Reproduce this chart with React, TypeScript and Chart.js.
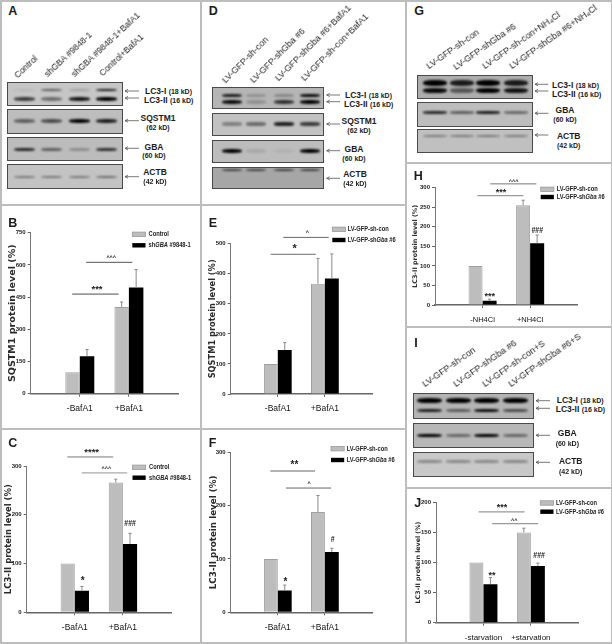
import React, { useEffect, useRef } from "react";
import { Chart, registerables } from "chart.js";

Chart.register(...registerables);

/* ---------- values ---------- */
const bafCategories = ["", "-BafA1", "+BafA1", ""];
const nh4Categories = ["", "-NH4Cl", "+NH4Cl", ""];
const starvationCategories = ["", "-starvation", "+starvation", ""];

const controlLabel = "Control";
const shGbaHumanLabel = "shGBA #9848-1";
const shConLabel = "LV-GFP-sh-con";
const shGbaLabel = "LV-GFP-shGba #6";

const bControl = [null, 100, 404, null];
const bControlTop = [null, 100, 427, null];
const bKnockdown = [null, 175, 495, null];
const bKnockdownTop = [null, 206, 578, null];

const cControl = [null, 100, 266, null];
const cControlTop = [null, 100, 273, null];
const cKnockdown = [null, 44, 140, null];
const cKnockdownTop = [null, 53, 162, null];

const eControl = [null, 100, 367, null];
const eControlTop = [null, 100, 451, null];
const eKnockdown = [null, 146, 384, null];
const eKnockdownTop = [null, 171, 466, null];

const fControl = [null, 100, 188, null];
const fControlTop = [null, 100, 219, null];
const fKnockdown = [null, 41, 113, null];
const fKnockdownTop = [null, 51, 120, null];

const hControl = [null, 100, 255, null];
const hControlTop = [null, 100, 268, null];
const hKnockdown = [null, 11, 158, null];
const hKnockdownTop = [null, 15, 179, null];

const jControl = [null, 100, 150, null];
const jControlTop = [null, 100, 157, null];
const jKnockdown = [null, 64, 94, null];
const jKnockdownTop = [null, 75, 99, null];

const humanLanes = ["Control", "shGBA #9848-1", "shGBA #9848-1+BafA1", "Control+BafA1"];
const mouseBafLanes = ["LV-GFP-sh-con", "LV-GFP-shGba #6", "LV-GFP-shGba #6+BafA1", "LV-GFP-sh-con+BafA1"];
const mouseNhLanes = ["LV-GFP-sh-con", "LV-GFP-shGba #6", "LV-GFP-sh-con+NH\u2084Cl", "LV-GFP-shGba #6+NH\u2084Cl"];
const mouseStarveLanes = ["LV-GFP-sh-con", "LV-GFP-shGba #6", "LV-GFP-sh-con+S", "LV-GFP-shGba #6+S"];

/* ---------- bar panels ---------- */
const SANS = '"Liberation Sans", Arial, sans-serif';
const WIDE = '"DejaVu Sans", Verdana, sans-serif';
const GRAY = "#bdbdbd";
const NARROW_X = 0.82;

type Panel = any;
const panels: Panel[] = [
  {
    id: "B", box: [7, 206, 192, 220], axis: [30.7, 178, 232.7, 393.7], yMax: 750, step: 150,
    title: "SQSTM1 protein level (%)", titleSize: 9.55, categories: bafCategories, catFont: [SANS, 8.5, "normal"],
    names: [controlLabel, shGbaHumanLabel],
    series: [bControl, bKnockdown], tops: [bControlTop, bKnockdownTop],
    lines: [[0.845, 1.79, 464, "#999", 1.6], [1.13, 2.07, 612, "#555", 1]],
    marks: [[1.35, 498, "***", 9.5], [1.64, 643, "^^^", 5.5]],
    legend: [132.3, 148.5, 234.3, 245.3],
  },
  {
    id: "C", box: [4, 430, 195, 212], axis: [26.7, 171, 466, 612.3], yMax: 300, step: 100,
    title: "LC3-II protein level (%)", titleSize: 8.47, categories: bafCategories, catFont: [SANS, 8.5, "normal"],
    names: [controlLabel, shGbaHumanLabel],
    series: [cControl, cKnockdown], tops: [cControlTop, cKnockdownTop],
    lines: [[0.845, 1.8, 318.5, "#777", 1], [1.143, 2.09, 286, "#aaa", 1.4]],
    marks: [[1.35, 332, "****", 9.5], [1.655, 299, "^^^", 5.5], [1.164, 68, "*", 10], [2.15, 182, "###", 8.5]],
    legend: [132.5, 149, 467.3, 477.7],
  },
  {
    id: "E", box: [208, 206, 194, 220], axis: [230.7, 372, 243.7, 394], yMax: 500, step: 100,
    title: "SQSTM1 protein level (%)", titleSize: 8.25, categories: bafCategories, catFont: [SANS, 8.5, "normal"],
    names: [shConLabel, shGbaLabel],
    series: [eControl, eKnockdown], tops: [eControlTop, eKnockdownTop],
    lines: [[0.849, 1.805, 464.5, "#888", 1.2], [1.118, 2.08, 521, "#666", 1]],
    marks: [[1.359, 490, "*", 11], [1.628, 542, "^", 5.5]],
    legend: [332.3, 347.7, 229.3, 240],
  },
  {
    id: "F", box: [208, 430, 194, 212], axis: [230.7, 372, 452.3, 612.3], yMax: 300, step: 100,
    title: "LC3-II protein level (%)", titleSize: 8.78, categories: bafCategories, catFont: [SANS, 8.5, "normal"],
    names: [shConLabel, shGbaLabel],
    series: [fControl, fKnockdown], tops: [fControlTop, fKnockdownTop],
    lines: [[0.842, 1.79, 265, "#999", 1.4], [1.175, 2.13, 233, "#666", 1]],
    marks: [[1.352, 279, "**", 10], [1.663, 245, "^", 5.5], [1.16, 60.6, "*", 10], [2.166, 136, "#", 8.5]],
    legend: [331, 346.7, 448.7, 460],
  },
  {
    id: "H", box: [412, 168, 197, 156], axis: [435, 577.7, 187.7, 305], yMax: 300, step: 50,
    title: "LC3-II protein level (%)", titleSize: 6.4, categories: nh4Categories, catFont: [SANS, 7.5, "normal"],
    names: [shConLabel, shGbaLabel],
    series: [hControl, hKnockdown], tops: [hControlTop, hKnockdownTop],
    lines: [[0.889, 1.856, 279.6, "#999", 1.2], [1.162, 2.13, 309.8, "#777", 1]],
    marks: [[1.387, 292, "***", 9], [1.653, 321, "^^^", 5.5], [1.149, 27, "***", 9], [2.15, 190, "###", 8.5]],
    legend: [540.7, 556.7, 189.3, 197],
  },
  {
    id: "J", box: [415, 492, 194, 148], axis: [436, 578.3, 502.3, 622.7], yMax: 200, step: 50,
    title: "LC3-II protein level (%)", titleSize: 6.3, categories: starvationCategories, catFont: [SANS, 8, "normal"],
    names: [shConLabel, shGbaLabel],
    series: [jControl, jKnockdown], tops: [jControlTop, jKnockdownTop],
    lines: [[0.898, 1.867, 184, "#999", 1.2], [1.186, 2.154, 164.5, "#999", 1.2]],
    marks: [[1.39, 194, "***", 9], [1.649, 173, "^^", 5.5], [1.179, 81, "**", 9], [2.175, 111, "###", 8.5]],
    legend: [540.3, 556, 503, 511.7],
  },
];

function narrowText(ctx: any, text: string, x: number, y: number) {
  ctx.save();
  ctx.translate(x, y);
  ctx.scale(NARROW_X, 1);
  ctx.fillText(text, 0, 0);
  ctx.restore();
}

function decorPlugin(p: Panel) {
  return {
    id: "decor" + p.id,
    afterDatasetsDraw(chart: any) {
      const ctx = chart.ctx;
      const xs = chart.scales.x;
      const ys = chart.scales.y;
      const [bl, bt] = p.box;
      ctx.save();
      // error whiskers, upward only
      p.tops.forEach((top: any[], di: number) => {
        const meta = chart.getDatasetMeta(di);
        top.forEach((v, i) => {
          const val = p.series[di][i];
          if (v == null || v === val) return;
          const x = meta.data[i].x;
          const y0 = ys.getPixelForValue(val);
          const y1 = ys.getPixelForValue(v);
          ctx.strokeStyle = "#8a8a8a";
          ctx.lineWidth = 1;
          ctx.beginPath();
          ctx.moveTo(x, y0);
          ctx.lineTo(x, y1);
          ctx.moveTo(x - 1.6, y1);
          ctx.lineTo(x + 1.6, y1);
          ctx.stroke();
        });
      });
      // significance brackets
      p.lines.forEach(([a, b, v, color, w]: any[]) => {
        const y = ys.getPixelForValue(v);
        ctx.strokeStyle = color;
        ctx.lineWidth = w;
        ctx.beginPath();
        ctx.moveTo(xs.getPixelForValue(a), y);
        ctx.lineTo(xs.getPixelForValue(b), y);
        ctx.stroke();
      });
      ctx.textAlign = "center";
      ctx.textBaseline = "middle";
      ctx.fillStyle = "#222";
      p.marks.forEach(([a, v, text, size]: any[]) => {
        const star = text[0] === "*";
        const caret = text[0] === "^";
        ctx.font = `bold ${size}px ${SANS}`;
        const dy = star ? size * 0.22 : caret ? size * 0.3 : 0;
        const px = xs.getPixelForValue(a);
        const py = ys.getPixelForValue(v) + dy;
        if (text[0] === "#") narrowText(ctx, text, px, py);
        else ctx.fillText(text, px, py);
      });
      // legend
      const [sx, tx, y1, y2] = p.legend;
      [y1, y2].forEach((yy: number, i: number) => {
        const ds = chart.data.datasets[i];
        const y = yy - bt;
        ctx.fillStyle = ds.backgroundColor;
        ctx.fillRect(sx - bl, y - 2.2, 13.2, 4.4);
        if (i === 0) {
          ctx.strokeStyle = "#999";
          ctx.lineWidth = 0.8;
          ctx.strokeRect(sx - bl, y - 2.2, 13.2, 4.4);
        }
        ctx.fillStyle = "#222";
        ctx.textAlign = "left";
        let x = tx - bl;
        String(ds.label)
          .split(/(GBA|Gba)/)
          .forEach((run: string) => {
            const it = run === "GBA" || run === "Gba";
            ctx.font = `${it ? "italic " : ""}bold 7px ${SANS}`;
            narrowText(ctx, run, x, y);
            x += ctx.measureText(run).width * NARROW_X;
          });
      });
      ctx.restore();
    },
  };
}

function BarPanel({ p }: { p: Panel }) {
  const ref = useRef<HTMLCanvasElement>(null);
  useEffect(() => {
    const [bl, bt, bw, bh] = p.box;
    const [al, ar, at, ab] = p.axis;
    const chart = new Chart(ref.current as any, {
      type: "bar",
      data: {
        labels: p.categories,
        datasets: p.names.map((name: string, i: number) => ({
          label: name,
          data: p.series[i],
          backgroundColor: i === 0 ? GRAY : "#000",
          borderColor: i === 0 ? "#a0a0a0" : "#000",
          borderWidth: i === 0 ? 1 : 0,
          barPercentage: 1,
          categoryPercentage: 0.59,
        })),
      },
      plugins: [decorPlugin(p)],
      options: {
        animation: false,
        responsive: false,
        layout: { padding: { top: at - bt, right: bl + bw - ar, left: 0, bottom: 0 } },
        plugins: { legend: { display: false }, tooltip: { enabled: false }, title: { display: false } },
        scales: {
          x: {
            type: "category",
            offset: false,
            afterFit: (s: any) => { s.height = bt + bh - ab; },
            grid: {
              offset: false,
              drawOnChartArea: false,
              tickLength: 3,
              tickColor: (c: any) => (c.index === 1 || c.index === 2 ? "#666" : "rgba(0,0,0,0)"),
            },
            border: { color: "#666", width: 1.5 },
            ticks: {
              autoSkip: false,
              maxRotation: 0,
              minRotation: 0,
              padding: 7,
              color: "#111",
              font: { family: p.catFont[0], size: p.catFont[1], weight: p.catFont[2] },
            },
          },
          y: {
            min: 0,
            max: p.yMax,
            afterFit: (s: any) => { s.width = al - bl; },
            title: {
              display: true,
              text: p.title,
              color: "#2a2a2a",
              padding: 0,
              font: { family: WIDE, size: p.titleSize, weight: "bold" },
            },
            grid: { drawOnChartArea: false, tickLength: 3, tickColor: "#666" },
            border: { color: "#777", width: 1 },
            ticks: {
              stepSize: p.step,
              padding: 2,
              color: "#222",
              font: { family: SANS, size: 6, weight: "bold" },
            },
          },
        },
      },
    } as any);
    return () => chart.destroy();
  }, [p]);
  const [l, t, w, h] = p.box;
  return (
    <canvas
      ref={ref}
      width={w}
      height={h}
      style={{ position: "absolute", left: l, top: t, width: w, height: h, display: "block" }}
    />
  );
}

/* ---------- blots ---------- */
type Band = { y: number; h: number; v: number[] };
type Row = { top: number; bottom: number; bg: string; bands: Band[] };
const blots: { x0: number; x1: number; lanes: number[]; width: number; rows: Row[] }[] = [
  {
    x0: 7.3, x1: 123.3, lanes: [25, 51.7, 80, 106.7], width: 21,
    rows: [
      { top: 82, bottom: 106, bg: "#c6c6c6", bands: [{ y: 90, h: 2.2, v: [0.08, 0.55, 0.2, 0.9] }, { y: 99.3, h: 3.8, v: [0.7, 0.45, 0.9, 1] }] },
      { top: 109.3, bottom: 134, bg: "#bdbdbd", bands: [{ y: 121, h: 3.8, v: [0.5, 0.6, 1, 0.85] }] },
      { top: 137, bottom: 161.3, bg: "#bcbcbc", bands: [{ y: 149.3, h: 3.2, v: [0.8, 0.5, 0.25, 0.75] }] },
      { top: 164, bottom: 188.7, bg: "#c3c3c3", bands: [{ y: 176.7, h: 2, v: [0.4, 0.4, 0.4, 0.45] }] },
    ],
  },
  {
    x0: 212.3, x1: 324, lanes: [231.7, 255.7, 284, 310], width: 20,
    rows: [
      { top: 86.7, bottom: 109.3, bg: "#b5b5b5", bands: [{ y: 95.7, h: 3, v: [0.85, 0.2, 0.25, 0.95] }, { y: 101.7, h: 4.2, v: [0.95, 0.2, 0.75, 1] }] },
      { top: 113.3, bottom: 136, bg: "#c2c2c2", bands: [{ y: 124, h: 3.2, v: [0.35, 0.45, 0.85, 0.7] }] },
      { top: 140, bottom: 162.7, bg: "#bcbcbc", bands: [{ y: 151, h: 4.2, v: [1, 0.1, 0.05, 1] }] },
      { top: 166.7, bottom: 189.3, bg: "#a6a6a6", bands: [{ y: 170, h: 2, v: [0.65, 0.65, 0.65, 0.65] }] },
    ],
  },
  {
    x0: 417.3, x1: 533, lanes: [435, 461.7, 488.3, 516], width: 24,
    rows: [
      { top: 75.3, bottom: 99.3, bg: "#adadad", bands: [{ y: 83.3, h: 6, v: [1, 0.85, 1, 0.85] }, { y: 90.7, h: 5, v: [0.95, 0.5, 1, 0.9] }] },
      { top: 102, bottom: 126.7, bg: "#bdbdbd", bands: [{ y: 112.7, h: 2.8, v: [0.8, 0.5, 0.85, 0.45] }] },
      { top: 129, bottom: 153.3, bg: "#c0c0c0", bands: [{ y: 135.7, h: 2, v: [0.38, 0.38, 0.38, 0.38] }] },
    ],
  },
  {
    x0: 413.3, x1: 533.7, lanes: [430, 458.3, 486.7, 516], width: 25,
    rows: [
      { top: 392.7, bottom: 418.7, bg: "#b4b4b4", bands: [{ y: 401, h: 5, v: [1, 1, 1, 1] }, { y: 410.3, h: 3.2, v: [0.85, 0.5, 0.95, 0.6] }] },
      { top: 422.7, bottom: 448, bg: "#b8b8b8", bands: [{ y: 435.3, h: 3.2, v: [1, 0.45, 1, 0.45] }] },
      { top: 452.3, bottom: 477.3, bg: "#c8c8c8", bands: [{ y: 461.7, h: 2.6, v: [0.32, 0.32, 0.32, 0.32] }] },
    ],
  },
];

function Blots() {
  const out: any[] = [];
  blots.forEach((b, bi) => {
    b.rows.forEach((r, ri) => {
      out.push(
        <div key={`${bi}-${ri}`} style={{
          position: "absolute", left: b.x0, top: r.top, width: b.x1 - b.x0, height: r.bottom - r.top,
          background: r.bg, boxSizing: "border-box", border: "1px solid #4a4a4a", overflow: "hidden",
        }}>
          {r.bands.map((band, k) =>
            b.lanes.map((c, i) => (
              <div key={`${k}-${i}`} style={{
                position: "absolute",
                left: c - b.x0 - b.width / 2 - 1,
                top: band.y - r.top - band.h / 2 - 1,
                width: b.width,
                height: band.h,
                background: `rgba(0,0,0,${band.v[i]})`,
                borderRadius: "40%",
                filter: "blur(0.9px)",
              }} />
            ))
          )}
        </div>
      );
    });
  });
  return <>{out}</>;
}

/* ---------- captions ---------- */
const letters: [string, number, number][] = [
  ["A", 12.7, 10.7], ["D", 213.3, 10.7], ["G", 419, 10.7], ["B", 12.7, 223], ["E", 213, 223],
  ["C", 12.7, 442.7], ["F", 212.7, 443], ["H", 418.3, 175.7], ["I", 416, 343], ["J", 417.7, 503.3],
];
const laneCaptions: [string[], number[], number[], number, number][] = [
  [humanLanes, [19, 49, 76, 104], [80, 78.5, 79, 78], -43, 8.7],
  [mouseBafLanes, [227, 255, 280, 306], [85, 85, 83, 83], -45, 9],
  [mouseNhLanes, [430, 457, 486, 513], [71, 71.7, 71, 71], -35, 9.1],
  [mouseStarveLanes, [425.7, 456.7, 486, 511.7], [389, 389, 389, 389], -35, 9.2],
];
// [marker, size text, x, y]
const lcLabels: [string, string, number, number][] = [
  ["LC3-I", "(18 kD)", 145, 91], ["LC3-II", "(16 kD)", 144, 100],
  ["LC3-I", "(18 kD)", 345, 95], ["LC3-II", "(16 kD)", 344, 103.7],
  ["LC3-I", "(18 kD)", 552, 85], ["LC3-II", "(16 kD)", 552, 94],
  ["LC3-I", "(18 kD)", 556.7, 400], ["LC3-II", "(16 kD)", 555.7, 408.7],
];
const stackedLabels: [string, string, number, number, number][] = [
  ["SQSTM1", "(62 kD)", 158, 118, 126.7], ["GBA", "(60 kD)", 154, 146.7, 155], ["ACTB", "(42 kD)", 155, 172, 181],
  ["SQSTM1", "(62 kD)", 359, 121, 130], ["GBA", "(60 kD)", 354, 148.7, 157.7], ["ACTB", "(42 kD)", 355, 173.7, 182.7],
  ["GBA", "(60 kD)", 565, 110, 119], ["ACTB", "(42 kD)", 568.7, 136, 145.3],
  ["GBA", "(60 kD)", 567.3, 433.3, 443.3], ["ACTB", "(42 kD)", 570.7, 461.3, 471.3],
];
// [x tip, x tail, y]
const arrows: [number, number, number][] = [
  [125, 139, 91], [125, 139, 98], [125, 139, 120.7], [125, 139, 148.3], [125, 139, 176.7],
  [326.7, 340, 95], [326.7, 340, 101.7], [326.7, 340, 124], [326.7, 340, 150.7], [326.7, 340, 178.3],
  [535, 548.3, 84.3], [535, 548.3, 91], [535, 548.3, 113.3], [535, 548.3, 135],
  [536, 550, 400.7], [536, 550, 408.3], [536, 550, 435.3], [536, 550, 462.3],
];
// frame: [left, top, width, height]
const frame: [number, number, number, number][] = [
  [0, 0, 612, 1.5], [0, 0, 1.5, 643], [610.5, 0, 1.5, 643], [0, 642, 612, 1.5],
  [199.5, 0, 2, 643], [404.5, 0, 2, 643],
  [0, 203.5, 405, 2], [0, 427.5, 405, 2], [405, 161.5, 207, 2], [405, 325.5, 207, 2], [405, 486.5, 207, 2],
];

const ink = "#1c1c1c";

export default function App() {
  return (
    <div style={{
      position: "absolute", left: 0, top: 0, width: 612, height: 644, overflow: "hidden",
      background: "#fff", fontFamily: SANS, color: ink, filter: "blur(0.35px)",
    }}>
      {frame.map(([l, t, w, h], i) => (
        <div key={i} style={{ position: "absolute", left: l, top: t, width: w, height: h, background: "#bdbdbd" }} />
      ))}
      <Blots />
      {panels.map((p) => <BarPanel key={p.id} p={p} />)}
      {letters.map(([s, x, y]) => (
        <div key={s} style={{
          position: "absolute", left: x, top: y, transform: "translate(-50%,-50%)",
          fontWeight: "bold", fontSize: 12.5, lineHeight: 1,
        }}>{s}</div>
      ))}
      {laneCaptions.map(([names, xs, ys, rot, size], bi) =>
        names.map((n, i) => (
          <div key={`${bi}-${i}`} style={{
            position: "absolute", left: xs[i], top: ys[i] - 10, height: 10, lineHeight: "10px",
            fontSize: size, whiteSpace: "nowrap", transformOrigin: "0 100%", transform: `rotate(${rot}deg)`,
            color: "#222", willChange: "transform",
          }}>{n}</div>
        ))
      )}
      {lcLabels.map(([a, b, x, y], i) => (
        <div key={i} style={{
          position: "absolute", left: x, top: y, transform: "translateY(-50%)", whiteSpace: "nowrap", lineHeight: 1,
          fontSize: 8.5, fontWeight: "bold",
        }}>{a} <span style={{ fontSize: 7 }}>{b}</span></div>
      ))}
      {stackedLabels.map(([a, b, x, y1, y2], i) => (
        <React.Fragment key={i}>
          <div style={{ position: "absolute", left: x, top: y1, transform: "translate(-50%,-50%)", fontSize: 8.5, fontWeight: "bold", lineHeight: 1 }}>{a}</div>
          <div style={{ position: "absolute", left: x, top: y2, transform: "translate(-50%,-50%)", fontSize: 7, fontWeight: "bold", lineHeight: 1, whiteSpace: "nowrap" }}>{b}</div>
        </React.Fragment>
      ))}
      <svg width={612} height={644} style={{ position: "absolute", left: 0, top: 0 }}>
        {arrows.map(([tip, tail, y], i) => (
          <path key={i} d={`M${tail} ${y}H${tip}M${tip + 3} ${y - 1.6}L${tip} ${y}L${tip + 3} ${y + 1.6}`}
            stroke="#555" strokeWidth={0.8} fill="none" />
        ))}
      </svg>
    </div>
  );
}
